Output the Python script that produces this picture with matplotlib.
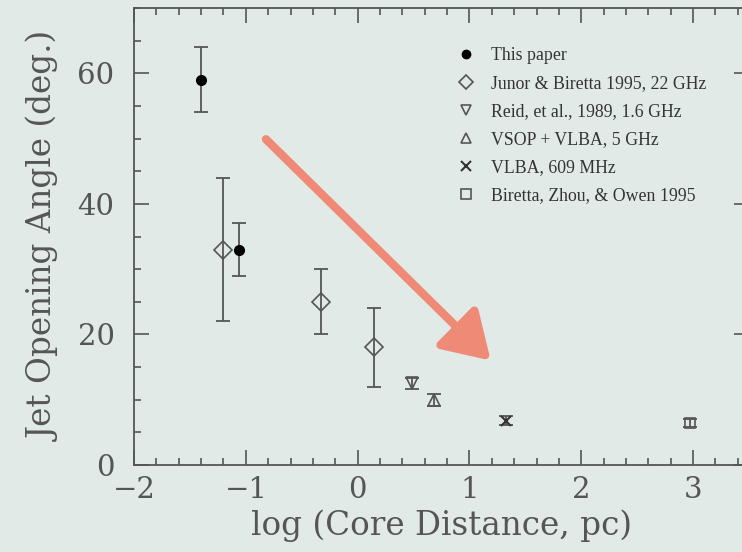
import matplotlib.pyplot as plt
from matplotlib.ticker import MultipleLocator

# log core distance (pc), opening angle (deg), lower/upper error bounds
this_x = [-1.40, -1.06]
this_y = [59.0, 33.0]
this_lo = [54.0, 29.0]
this_hi = [64.0, 37.0]

junor_x = [-1.20, -0.33, 0.15]
junor_y = [33.0, 25.0, 18.0]
junor_lo = [22.0, 20.0, 12.0]
junor_hi = [44.0, 30.0, 24.0]

reid_x = [0.49]
reid_y = [12.5]
reid_lo = [11.6]
reid_hi = [13.3]

vsop_x = [0.68]
vsop_y = [10.0]
vsop_lo = [9.0]
vsop_hi = [10.9]

vlba_x = [1.33]
vlba_y = [6.8]
vlba_lo = [6.1]
vlba_hi = [7.5]

biretta_x = [2.97]
biretta_y = [6.4]
biretta_lo = [5.8]
biretta_hi = [7.0]

labels = [
    "This paper",
    "Junor & Biretta 1995, 22 GHz",
    "Reid, et al., 1989, 1.6 GHz",
    "VSOP + VLBA, 5 GHz",
    "VLBA, 609 MHz",
    "Biretta, Zhou, & Owen 1995",
]

BG = "#e2eae8"
INK = "#555555"
ARROW = "#ef8a76"

fig = plt.figure(figsize=(7.42, 5.52), dpi=100, facecolor=BG)
ax = fig.add_axes([134 / 742, 87 / 552, 615 / 742, 457 / 552], facecolor=BG)


def errs(y, lo, hi):
    return [[v - l for v, l in zip(y, lo)], [h - v for v, h in zip(y, hi)]]


series = [
    (this_x, this_y, this_lo, this_hi, dict(marker="o", ms=7, mfc="black", mec="black")),
    (junor_x, junor_y, junor_lo, junor_hi, dict(marker="D", ms=9, mfc="none", mec=INK, mew=1.2)),
    (reid_x, reid_y, reid_lo, reid_hi, dict(marker="v", ms=8, mfc="none", mec=INK, mew=1.2)),
    (vsop_x, vsop_y, vsop_lo, vsop_hi, dict(marker="^", ms=8, mfc="none", mec=INK, mew=1.2)),
    (vlba_x, vlba_y, vlba_lo, vlba_hi, dict(marker="x", ms=7, mec="#333333", mew=1.5)),
    (biretta_x, biretta_y, biretta_lo, biretta_hi, dict(marker="s", ms=7, mfc="none", mec=INK, mew=1.2)),
]

for x, y, lo, hi, style in series:
    ax.errorbar(x, y, yerr=errs(y, lo, hi), fmt="none", ecolor=INK,
                elinewidth=1.3, capsize=5, capthick=1.3)

# legend entries use smaller copies of the plotted markers
legend_ms = [6, 7, 7, 7, 7, 7]
handles = []
for (x, y, lo, hi, style), lab, ms in zip(series, labels, legend_ms):
    ax.plot(x, y, ls="none", **style)
    small = dict(style)
    small["ms"] = ms
    (h,) = ax.plot([], [], ls="none", label=lab, **small)
    handles.append(h)

ax.legend(handles=handles, loc="upper left", bbox_to_anchor=(0.5, 0.95),
          frameon=False, handlelength=1.0, handletextpad=0.9, labelspacing=0.62,
          prop={"family": "Liberation Serif", "size": 12.8}, labelcolor="#333333")

ax.annotate("", xy=(1.19, 16.0), xytext=(-0.82, 49.9),
            arrowprops=dict(arrowstyle="-|>,head_length=0.45,head_width=0.28",
                            color=ARROW, lw=6, mutation_scale=62,
                            shrinkA=0, shrinkB=0))

ax.set_xlim(-2, 3.5)
ax.set_ylim(0, 70)
ax.xaxis.set_major_locator(MultipleLocator(1))
ax.xaxis.set_minor_locator(MultipleLocator(0.2))
ax.yaxis.set_major_locator(MultipleLocator(20))
ax.yaxis.set_minor_locator(MultipleLocator(5))
ax.tick_params(which="both", direction="in", top=True, right=True,
               color=INK, width=1.2, labelcolor=INK)
ax.tick_params(which="major", length=11, labelsize=21)
ax.tick_params(axis="y", which="major", pad=14)
ax.tick_params(axis="x", which="major", pad=8)
ax.tick_params(which="minor", length=5)
for lab in ax.get_xticklabels() + ax.get_yticklabels():
    lab.set_family("DejaVu Serif")
for s in ax.spines.values():
    s.set_color(INK)
    s.set_linewidth(1.3)

ax.set_xlabel("log (Core Distance, pc)", family="DejaVu Serif", fontsize=23.5,
              color=INK, labelpad=4)
ax.set_ylabel("Jet Opening Angle (deg.)", family="DejaVu Serif", fontsize=23.5,
              color=INK, labelpad=12)

fig.savefig("out.png", dpi=100, facecolor=BG)
